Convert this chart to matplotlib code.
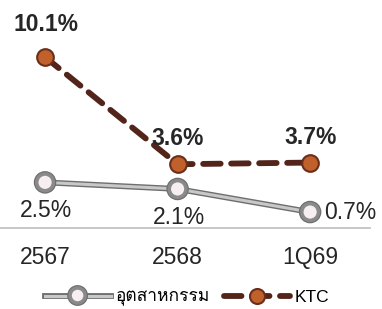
import matplotlib
matplotlib.use("Agg")
import matplotlib.pyplot as plt
import matplotlib.patheffects as pe
from matplotlib import font_manager
from matplotlib.ft2font import FT2Font

periods = ["2567", "2568", "1Q69"]
industry = [2.5, 2.1, 0.7]
ktc = [10.1, 3.6, 3.7]
industry_name = "อุตสาหกรรม"
ktc_name = "KTC"


def find_thai_font():
    """look for an installed font that has Thai glyphs"""
    for f in font_manager.fontManager.ttflist:
        try:
            cmap = FT2Font(f.fname).get_charmap()
        except Exception:
            continue
        if 0x0E2D in cmap and 0x0E23 in cmap:
            return f.name
    return None


thai = find_thai_font()
families = ["Liberation Sans", "DejaVu Sans"]
if thai:
    families = ["Liberation Sans", thai, "DejaVu Sans"]
plt.rcParams["font.family"] = families

fig = plt.figure(figsize=(3.82, 3.09), dpi=100)
ax = fig.add_axes([0, 0.262, 0.969, 0.738])

x = range(len(periods))
txt = "#262626"

# industry line: gray with darker outline
ax.plot(x, industry, color="#c8c8c8", lw=2.2, marker="o", ms=12,
        mfc="#f6eef0", mec="#8a8a8a", mew=2.5, zorder=2,
        path_effects=[pe.Stroke(linewidth=4.2, foreground="#6e6e6e"), pe.Normal()],
        label=industry_name)
# KTC dashed line
ax.plot(x, ktc, color="#52241a", lw=4.2, ls=(0, (3, 1.8)), dash_capstyle="round",
        marker="o", ms=12, mfc="#c0602a", mec="#6a2e1a", mew=1.5, zorder=3,
        label=ktc_name)

# data labels
ax.annotate("10.1%", (0, ktc[0]), xytext=(1, 15), textcoords="offset points",
            ha="center", va="bottom", fontsize=16.5, fontweight="bold", color=txt)
for i in (1, 2):
    ax.annotate(f"{ktc[i]}%", (i, ktc[i]), xytext=(0, 10), textcoords="offset points",
                ha="center", va="bottom", fontsize=16.5, fontweight="bold", color=txt)
for i in (0, 1):
    ax.annotate(f"{industry[i]}%", (i, industry[i]), xytext=(1, -12), textcoords="offset points",
                ha="center", va="top", fontsize=16.5, color=txt)
ax.annotate(f"{industry[2]}%", (2, industry[2]), xytext=(10, 0), textcoords="offset points",
            ha="left", va="center", fontsize=16.5, color=txt)

ax.set_xlim(-0.34, 2.453)
ax.set_ylim(-0.27, 13.56)
ax.set_xticks(list(x))
ax.set_xticklabels(periods, fontsize=16.5, color=txt)
ax.tick_params(axis="x", length=0, pad=13)
ax.set_yticks([])
for s in ["top", "left", "right"]:
    ax.spines[s].set_visible(False)
ax.spines["bottom"].set_color("#bdbdbd")
ax.spines["bottom"].set_linewidth(1.2)

fig.legend(loc="center", bbox_to_anchor=(0.49, 0.036), ncol=2, frameon=False,
           fontsize=12.5, handlelength=3.8, columnspacing=0.8, handletextpad=0.3,
           markerscale=0.9)

fig.savefig("out.png", dpi=100)
